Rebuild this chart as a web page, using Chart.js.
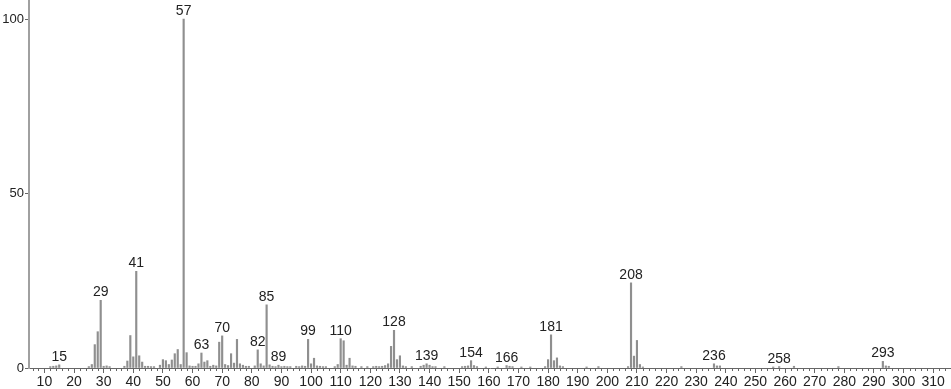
<!DOCTYPE html>
<html>
<head>
<meta charset="utf-8">
<script src="https://cdn.jsdelivr.net/npm/chart.js@4/dist/chart.umd.min.js"></script>
<style>
html,body{margin:0;padding:0;background:#fff;}
#wrap{width:951px;height:389px;position:relative;}
</style>
</head>
<body>
<div id="wrap"><canvas id="c" width="951" height="389"></canvas></div>
<script>
// m/z values and relative intensities (%)
const MZ = [12,13,14,15,25,26,27,28,29,30,31,32,37,38,39,40,41,42,43,44,45,46,47,49,50,51,52,53,54,55,56,57,58,59,60,61,62,63,64,65,66,67,68,69,70,71,72,73,74,75,76,77,78,79,81,82,83,84,85,86,87,88,89,90,91,92,93,95,96,97,98,99,100,101,102,103,104,105,108,109,110,111,112,113,114,115,117,119,121,122,123,124,125,126,127,128,129,130,131,132,134,137,138,139,140,141,142,145,151,152,153,154,155,156,159,163,166,167,168,171,174,179,180,181,182,183,184,185,193,197,207,208,209,210,211,212,225,236,237,238,256,258,263,278,293,294,295];
const INTENSITY = [0.4,0.5,0.6,0.9,0.4,1.0,6.7,10.4,19.4,0.5,0.6,0.4,0.5,2.0,9.3,3.2,27.7,3.5,1.7,0.5,0.5,0.4,0.4,0.8,2.4,2.1,1.0,2.3,4.1,5.3,1.0,100,4.4,0.6,0.5,0.5,1.2,4.3,1.7,2.1,0.5,0.8,0.6,7.4,9.2,1.0,0.7,4.1,1.4,8.2,1.2,0.8,0.5,0.5,0.6,5.2,1.2,0.6,18.1,0.9,0.5,0.4,0.8,0.4,0.5,0.4,0.4,0.5,0.4,0.6,0.5,8.2,1.2,2.8,0.6,0.5,0.4,0.4,0.4,1.0,8.4,7.8,0.8,2.8,0.6,0.5,0.4,0.4,0.4,0.5,0.4,0.5,0.7,1.2,6.2,10.8,2.4,3.5,0.6,0.4,0.4,0.5,0.8,1.2,0.8,0.4,0.4,0.4,0.4,0.5,0.6,2.1,0.7,0.4,0.3,0.3,0.7,0.5,0.4,0.3,0.3,0.4,2.4,9.5,2.1,2.9,0.6,0.4,0.3,0.4,0.4,24.4,3.4,7.9,1.0,0.3,0.4,1.2,0.6,0.6,0.3,0.4,0.5,0.4,1.9,0.6,0.5];
// peaks that carry an m/z label
const LABELED = [15,29,41,57,63,70,82,85,89,99,110,128,139,154,166,181,208,236,258,293];
// axis tick values
const X_TICKS = [10,20,30,40,50,60,70,80,90,100,110,120,130,140,150,160,170,180,190,200,210,220,230,240,250,260,270,280,290,300,310];
const Y_TICKS = [0,50,100];

const FONT = '"Liberation Sans", Arial, sans-serif';

const peakLabels = {
  id: 'peakLabels',
  afterDatasetsDraw(chart) {
    const ctx = chart.ctx, xs = chart.scales.x, ys = chart.scales.y;
    ctx.save();
    ctx.fillStyle = '#222';
    ctx.font = '14px ' + FONT;
    ctx.textAlign = 'center';
    ctx.textBaseline = 'alphabetic';
    LABELED.forEach(m => {
      const i = MZ.indexOf(m);
      if (i < 0) return;
      const px = xs.getPixelForValue(m);
      const py = ys.getPixelForValue(INTENSITY[i]);
      ctx.fillText(String(m), px, py - 4);
    });
    ctx.restore();
  }
};

const minorTicks = {
  id: 'minorTicks',
  afterDraw(chart) {
    const ctx = chart.ctx, xs = chart.scales.x;
    const y0 = chart.chartArea.bottom;
    ctx.save();
    ctx.strokeStyle = '#666';
    ctx.lineWidth = 1;
    ctx.beginPath();
    for (let v = 6; v <= xs.max; v += 2) {
      if (v % 10 === 0) continue;
      const px = Math.round(xs.getPixelForValue(v)) + 0.5;
      ctx.moveTo(px, y0);
      ctx.lineTo(px, y0 + 3);
    }
    ctx.stroke();
    ctx.restore();
  }
};

new Chart(document.getElementById('c'), {
  type: 'bar',
  data: {
    datasets: [{
      data: MZ.map((m, i) => ({x: m, y: INTENSITY[i]})),
      backgroundColor: '#8f8f8f',
      borderWidth: 0,
      barThickness: 1.5
    }]
  },
  options: {
    responsive: false,
    animation: false,
    layout: {padding: 0},
    plugins: {legend: {display: false}, tooltip: {enabled: false}},
    scales: {
      x: {
        type: 'linear',
        offset: false,
        min: 4.8,
        max: 316,
        afterBuildTicks: s => { s.ticks = X_TICKS.map(v => ({value: v})); },
        afterFit: s => { s.height = 21; },
        grid: {display: true, offset: false, drawOnChartArea: false, drawTicks: true, tickLength: 5, color: '#666'},
        border: {display: true, color: '#666', width: 1},
        ticks: {color: '#222', font: {family: FONT, size: 14}, padding: 1, maxRotation: 0, autoSkip: false}
      },
      y: {
        min: 0,
        max: 105.45,
        afterBuildTicks: s => { s.ticks = Y_TICKS.map(v => ({value: v})); },
        afterFit: s => { s.width = 29; s.paddingTop = 0; s.paddingBottom = 0; },
        grid: {display: true, drawOnChartArea: false, drawTicks: true, tickLength: 4, color: '#666'},
        border: {display: true, color: '#a0a0a0', width: 2},
        ticks: {color: '#222', font: {family: FONT, size: 13}, padding: 1}
      }
    }
  },
  plugins: [peakLabels, minorTicks]
});
</script>
</body>
</html>
